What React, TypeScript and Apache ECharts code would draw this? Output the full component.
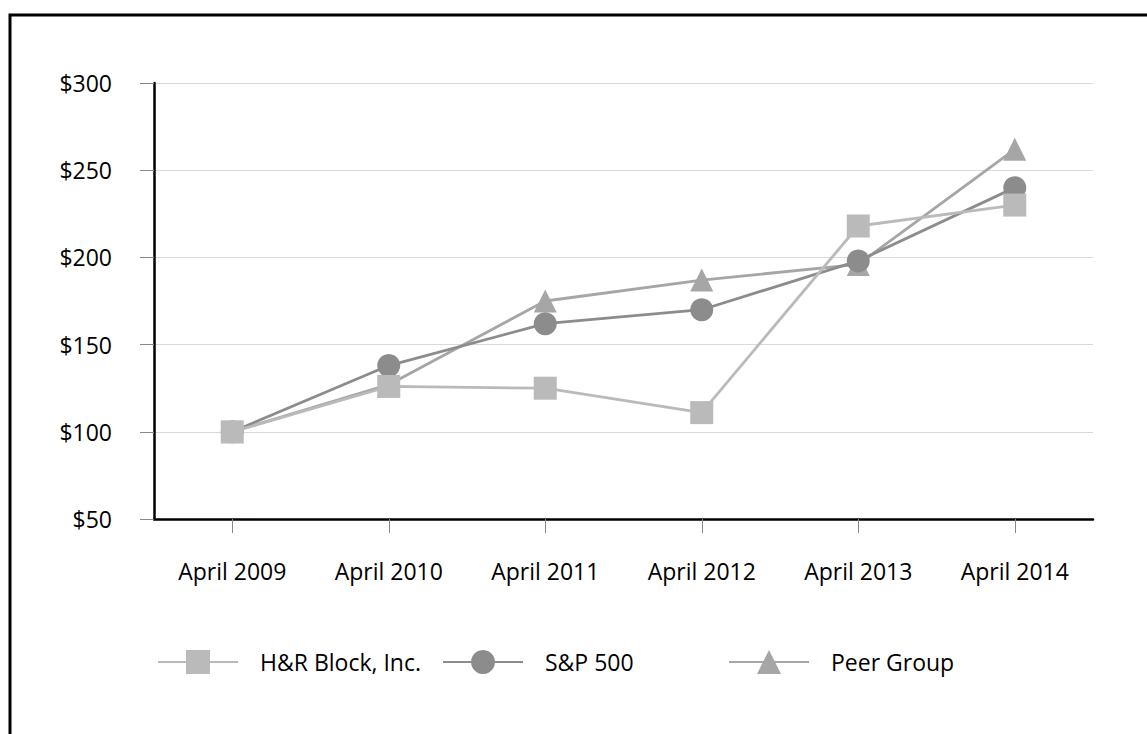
import React, { useEffect, useRef } from "react";
import * as echarts from "echarts";

const categories = ["April 2009", "April 2010", "April 2011", "April 2012", "April 2013", "April 2014"];
const hrBlock = [100, 126, 125, 111, 218, 230];
const sp500 = [100, 138, 162, 170, 198, 240];
const peerGroup = [100, 127, 175, 187, 196, 262];
const seriesNames = ["H&R Block, Inc.", "S&P 500", "Peer Group"];

const FONT = "Open Sans";

export default function App() {
  const ref = useRef<HTMLDivElement>(null);
  useEffect(() => {
    if (!ref.current) return;
    const chart = echarts.init(ref.current, null, { renderer: "svg" });
    const legendBase = {
      orient: "horizontal",
      top: 650,
      padding: 0,
      itemWidth: 80,
      itemHeight: 30,
      textStyle: { fontFamily: FONT, fontSize: 23, color: "#000", padding: [0, 0, 0, 17] },
      selectedMode: false,
    };
    chart.setOption({
      animation: false,
      backgroundColor: "#fff",
      textStyle: { fontFamily: FONT },
      graphic: [
        {
          type: "rect",
          shape: { x: 10, y: 15, width: 1300, height: 900 },
          style: { fill: "none", stroke: "#000", lineWidth: 3 },
          silent: true,
        },
      ],
      grid: { left: 154, right: 54, top: 83, bottom: 215, containLabel: false },
      legend: [
        { ...legendBase, left: 157, data: [seriesNames[0]] },
        { ...legendBase, left: 442, data: [seriesNames[1]] },
        { ...legendBase, left: 728, data: [seriesNames[2]] },
      ],
      xAxis: {
        type: "category",
        data: categories,
        boundaryGap: true,
        axisLine: { show: true, lineStyle: { color: "#000", width: 2.5 } },
        axisTick: { show: true, alignWithLabel: true, length: 14, lineStyle: { color: "#888", width: 1 } },
        axisLabel: { fontFamily: FONT, fontSize: 23, color: "#000", margin: 40 },
        splitLine: { show: false },
      },
      yAxis: {
        type: "value",
        min: 50,
        max: 300,
        interval: 50,
        axisLine: { show: true, lineStyle: { color: "#000", width: 2.5 } },
        axisTick: { show: true, length: 14, lineStyle: { color: "#888", width: 1 } },
        axisLabel: {
          fontFamily: FONT,
          fontSize: 23,
          color: "#000",
          margin: 42,
          formatter: (v: number) => "$" + v,
        },
        splitLine: { show: true, lineStyle: { color: "#d9d9d9", width: 1 } },
      },
      series: [
        {
          name: seriesNames[2],
          type: "line",
          data: peerGroup,
          symbol: "triangle",
          symbolSize: 23,
          z: 2,
          itemStyle: { color: "#a6a6a6" },
          lineStyle: { color: "#a6a6a6", width: 2.8 },
        },
        {
          name: seriesNames[1],
          type: "line",
          data: sp500,
          symbol: "circle",
          symbolSize: 23,
          z: 3,
          itemStyle: { color: "#8c8c8c" },
          lineStyle: { color: "#8c8c8c", width: 2.8 },
        },
        {
          name: seriesNames[0],
          type: "line",
          data: hrBlock,
          symbol: "rect",
          symbolSize: 23,
          z: 4,
          itemStyle: { color: "#bababa" },
          lineStyle: { color: "#bababa", width: 2.8 },
        },
      ],
    });
    return () => chart.dispose();
  }, []);
  return (
    <div
      ref={ref}
      style={{ position: "fixed", left: 0, top: 0, width: 1147, height: 734, background: "#fff" }}
    />
  );
}
